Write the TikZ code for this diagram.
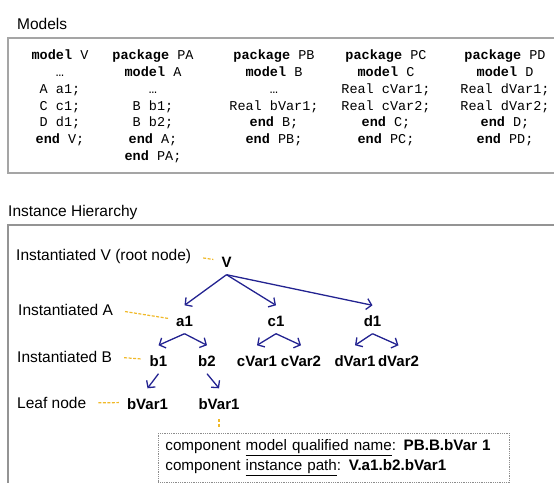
\documentclass[tikz,border=0pt]{standalone}
\usepackage{xcolor}
\usepackage{fontspec}
\setmainfont{Liberation Sans}
\setmonofont{Liberation Mono}
\usepackage{tikz}
\usetikzlibrary{
    positioning,
    calc,
    arrows.meta
}
\definecolor{treeblue}{RGB}{35,35,145}
\definecolor{leadergold}{RGB}{240,185,40}
\definecolor{framegray}{RGB}{165,165,165}
\tikzset{
  title/.style = {
      font=\fontsize{15.5}{18}\selectfont,
      anchor=base west,
      inner sep=0pt
  },
  frame/.style = {
      draw=framegray,
      line width=1.4pt
  },
  code/.style = {
      font=\ttfamily\fontsize{13.5}{16.7}\selectfont,
      align=center,
      anchor=north,
      inner sep=0pt
  },
  inst/.style = {
      font=\bfseries\fontsize{15}{18}\selectfont,
      anchor=base,
      inner xsep=1pt,
      inner ysep=0pt,
      text height=21pt,
      text depth=7pt
  },
  lbl/.style = {
      font=\fontsize{15.5}{18}\selectfont,
      anchor=base west,
      inner sep=2pt
  },
  note/.style = {
      draw=black!45,
      densely dotted,
      line width=0.8pt,
      font=\fontsize{15.2}{20}\selectfont,
      align=left,
      text width=337pt,
      inner xsep=7pt,
      inner ysep=6.5pt,
      minimum height=48pt,
      anchor=north west
  },
  edge/.style = {
      draw=treeblue,
      line width=1.3pt,
      -{Straight Barb[length=5pt,width=11pt]}
  },
  leader/.style = {
      draw=leadergold,
      line width=1.2pt,
      dash pattern=on 3pt off 1.5pt,
      shorten <=10pt,
      shorten >=7pt
  }
}

\begin{document}
\begin{tikzpicture}[x=1pt,y=-1pt]
    \useasboundingbox (0,0) rectangle (554,482);
    \clip (0,0) rectangle (554,482);
    % Models
    \node[title] (models) at (17,29) {Models};
    \draw[frame] (8,38) rectangle (600,173);
    \node[code] (mV) at (60,50) {\textbf{model} V\\…\\A a1;\\C c1;\\D d1;\\\textbf{end} V;};
    \node[code] (mPA) at (153,50) {\textbf{package} PA\\\textbf{model} A\\…\\B b1;\\B b2;\\\textbf{end} A;\\\textbf{end} PA;};
    \node[code] (mPB) at (274,50) {\textbf{package} PB\\\textbf{model} B\\…\\Real bVar1;\\\textbf{end} B;\\\textbf{end} PB;};
    \node[code] (mPC) at (386,50) {\textbf{package} PC\\\textbf{model} C\\Real cVar1;\\Real cVar2;\\\textbf{end} C;\\\textbf{end} PC;};
    \node[code] (mPD) at (505,50) {\textbf{package} PD\\\textbf{model} D\\Real dVar1;\\Real dVar2;\\\textbf{end} D;\\\textbf{end} PD;};
    % Instance hierarchy
    \node[title] (hier) at (8,216) {Instance Hierarchy};
    \draw[frame, draw=framegray!90!black, line width=1.2pt] (8,225) rectangle (600,600);
    \node[inst] (nV) at (226.5,267.5) {V};
    \node[inst] (na1) at (184.5,326.5) {a1};
    \node[inst] (nc1) at (276,326.5) {c1};
    \node[inst] (nd1) at (372.5,326.5) {d1};
    \node[inst] (nb1) at (158.5,366.5) {b1};
    \node[inst] (nb2) at (207,366.5) {b2};
    \node[inst] (ncv1) at (257,366.5) {cVar1};
    \node[inst] (ncv2) at (301,366.5) {cVar2};
    \node[inst] (ndv1) at (355,366.5) {dVar1};
    \node[inst] (ndv2) at (398.5,366.5) {dVar2};
    \node[inst] (nbv1) at (147.5,409.5) {bVar1};
    \node[inst] (nbv2) at (219,409.5) {bVar1};
    % Labels
    \node[lbl] (lblV) at (14,260.5) {Instantiated V (root node)};
    \node[lbl] (lblA) at (16,315.5) {Instantiated A};
    \node[lbl] (lblB) at (15,362.5) {Instantiated B};
    \node[lbl] (lblLeaf) at (15,408.5) {Leaf node};
    \node[note] (info) at (158,433) {component \underline{model qualified name}: \textbf{PB.B.bVar 1}\\
      component \underline{instance path}: \textbf{V.a1.b2.bVar1}};
    % Edges
    \foreach \a/\b in {nV/na1, nV/nc1, nV/nd1, na1/nb1, na1/nb2, nc1/ncv1,
                       nc1/ncv2, nd1/ndv1, nd1/ndv2, nb1/nbv1, nb2/nbv2}
      \draw[edge] (\a.south) -- (\b.north);
    \draw[leader] (lblV.east) -- (nV.west);
    \draw[leader] (lblA.east) -- (na1.west);
    \draw[leader] (lblB.east) -- (nb1.west);
    \draw[leader] (lblLeaf.east) -- (nbv1.west);
    \draw[leader, shorten <=2.5pt, shorten >=5pt] (nbv2.south) -- (nbv2.south |- info.north);
\end{tikzpicture}
\end{document}
